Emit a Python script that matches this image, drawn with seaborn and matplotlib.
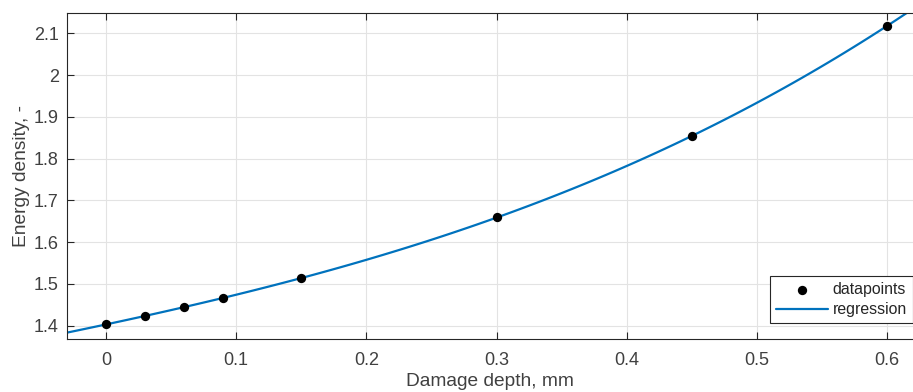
import numpy as np
import pandas as pd
import matplotlib
matplotlib.use("Agg")
import matplotlib.pyplot as plt
from matplotlib.ticker import FuncFormatter
import seaborn as sns

# datapoints
depth = [0.0, 0.03, 0.06, 0.09, 0.15, 0.30, 0.45, 0.60]
energy = [1.403, 1.423, 1.444, 1.466, 1.514, 1.659, 1.854, 2.118]
x_ticks = [0, 0.1, 0.2, 0.3, 0.4, 0.5, 0.6]
y_ticks = [1.4, 1.5, 1.6, 1.7, 1.8, 1.9, 2.0, 2.1]

df = pd.DataFrame({"depth": depth, "energy": energy})

sns.set_style("whitegrid")
plt.rcParams["font.family"] = ["Liberation Sans", "DejaVu Sans"]

fig = plt.figure(figsize=(9.13, 3.92), dpi=100)
ax = fig.add_axes([0.0734, 0.1344, 0.9266, 0.8324])
ax.set_xlim(-0.03, 0.62)
ax.set_ylim(1.367, 2.149)

sns.regplot(data=df, x="depth", y="energy", order=3, ci=None, truncate=False,
            scatter=False, ax=ax, label="regression",
            line_kws={"color": "#0072BD", "linewidth": 1.6, "zorder": 2})
sns.scatterplot(data=df, x="depth", y="energy", color="black", s=45,
                edgecolor="black", linewidth=0, ax=ax, label="datapoints", zorder=3)

ax.set_xticks(x_ticks)
ax.set_yticks(y_ticks)
fmt = FuncFormatter(lambda v, p: "%g" % round(v, 3))
ax.xaxis.set_major_formatter(fmt)
ax.yaxis.set_major_formatter(fmt)
ax.grid(True, color="#e3e3e3", linewidth=0.8)
ax.set_axisbelow(True)
for side in ["left", "bottom", "top"]:
    ax.spines[side].set_color("#262626")
    ax.spines[side].set_linewidth(0.8)
ax.spines["right"].set_visible(False)
ax.tick_params(direction="in", length=5, width=0.8, colors="#262626",
               labelcolor="#404040", labelsize=13, top=True, left=True,
               bottom=True, right=False, labeltop=False, pad=9)
ax.tick_params(axis="y", pad=6)

ax.set_xlabel("Damage depth, mm", fontsize=13.8, color="#404040", labelpad=3)
ax.set_ylabel("Energy density, -", fontsize=13.8, color="#404040", labelpad=2.5)

handles, labels = ax.get_legend_handles_labels()
order = [labels.index("datapoints"), labels.index("regression")]
leg = ax.legend([handles[i] for i in order], [labels[i] for i in order],
                loc="lower right", bbox_to_anchor=(0.9995, 0.05), borderaxespad=0,
                fontsize=11.4, frameon=True, fancybox=False, framealpha=1,
                edgecolor="#262626", borderpad=0.35, handlelength=3.3,
                handletextpad=0.3, labelspacing=0.35, markerfirst=True)
leg.get_frame().set_linewidth(0.8)
for t in leg.get_texts():
    t.set_color("#262626")

fig.savefig("out.png", dpi=100)
